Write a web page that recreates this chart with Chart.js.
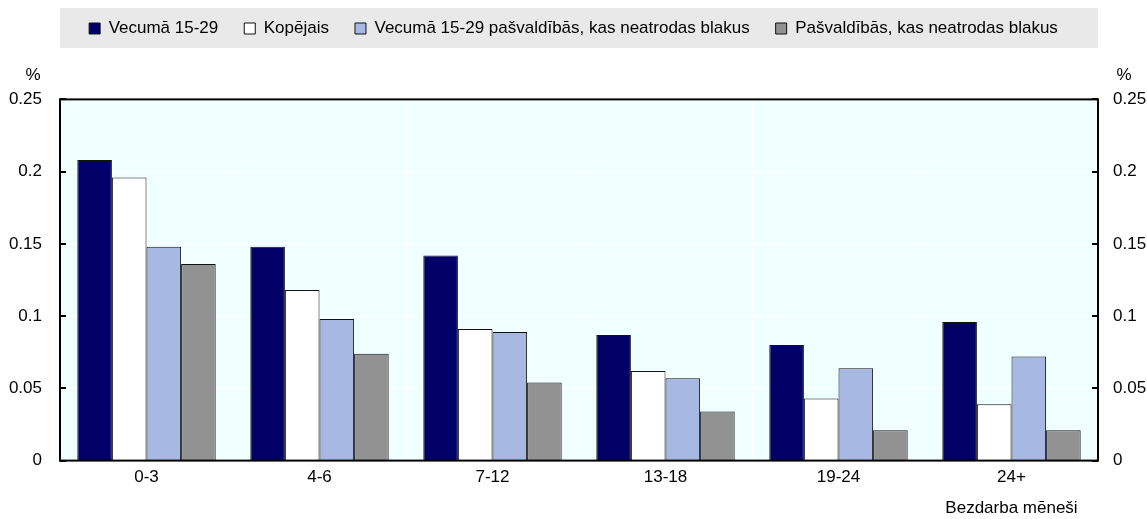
<!DOCTYPE html>
<html>
<head>
<meta charset="utf-8">
<script src="https://cdn.jsdelivr.net/npm/chart.js@4.4.1/dist/chart.umd.min.js"></script>
<style>
  html, body { margin: 0; padding: 0; background: #fff; }
</style>
</head>
<body>
<canvas id="myChart" width="1147" height="519"></canvas>
<script>
const categories = ['0-3', '4-6', '7-12', '13-18', '19-24', '24+'];
const seriesNames = [
  'Vecumā 15-29',
  'Kopējais',
  'Vecumā 15-29 pašvaldībās, kas neatrodas blakus',
  'Pašvaldībās, kas neatrodas blakus'
];
const youth = [0.208, 0.148, 0.142, 0.087, 0.080, 0.096];
const total = [0.196, 0.118, 0.091, 0.062, 0.043, 0.039];
const youthNonAdjacent = [0.148, 0.098, 0.089, 0.057, 0.064, 0.072];
const nonAdjacent = [0.136, 0.074, 0.054, 0.034, 0.021, 0.021];
const yMin = 0;
const yMax = 0.25;
const yStep = 0.05;
const unitLabel = '%';
const xTitle = 'Bezdarba mēneši';

const colors = ['#000066', '#ffffff', '#a7b9e3', '#929292'];
const font = { family: "'Liberation Sans', Arial, sans-serif", size: 17 };

// 0.2 rather than 0.20
const fmtTick = v => parseFloat(Number(v).toFixed(2)).toString();

// plot background, grey legend strip, frame + inward ticks, captions
const decor = {
  id: 'decor',
  beforeDraw(chart) {
    const { ctx, chartArea, legend } = chart;
    ctx.save();
    ctx.fillStyle = '#f0ffff';
    ctx.fillRect(chartArea.left, chartArea.top, chartArea.right - chartArea.left, chartArea.bottom - chartArea.top);
    if (legend && legend.legendHitBoxes.length) {
      const hb = legend.legendHitBoxes[0];
      ctx.fillStyle = '#e9e9e9';
      ctx.fillRect(chartArea.left, hb.top - 12, chartArea.right - chartArea.left, hb.height + 23);
    }
    ctx.restore();
  },
  afterDatasetsDraw(chart) {
    const { ctx, chartArea, scales } = chart;
    const y = scales.y;
    ctx.save();
    ctx.strokeStyle = '#000';
    ctx.lineWidth = 2;
    ctx.strokeRect(chartArea.left, chartArea.top, chartArea.right - chartArea.left, chartArea.bottom - chartArea.top);
    y.ticks.forEach(t => {
      const py = Math.round(y.getPixelForValue(t.value));
      ctx.beginPath();
      ctx.moveTo(chartArea.left, py);
      ctx.lineTo(chartArea.left + 6, py);
      ctx.moveTo(chartArea.right, py);
      ctx.lineTo(chartArea.right - 6, py);
      ctx.stroke();
    });
    ctx.fillStyle = '#000';
    ctx.font = `${font.size}px ${font.family}`;
    ctx.textAlign = 'center';
    ctx.textBaseline = 'middle';
    ctx.fillText(unitLabel, 33, chartArea.top - 24);
    ctx.fillText(unitLabel, chartArea.right + 26, chartArea.top - 24);
    const x = scales.x;
    ctx.fillText(xTitle, x.getPixelForValue(categories.length - 1), x.bottom + 13);
    ctx.restore();
  }
};

const makeSet = (label, data, i) => ({
  label,
  data,
  backgroundColor: colors[i],
  borderColor: '#111',
  borderWidth: 1,
  borderSkipped: 'bottom',
  categoryPercentage: 0.8,
  barPercentage: 1.0
});

const ctx = document.getElementById('myChart').getContext('2d');
const myChart = new Chart(ctx, {
  type: 'bar',
  data: {
    labels: categories,
    datasets: [
      makeSet(seriesNames[0], youth, 0),
      makeSet(seriesNames[1], total, 1),
      makeSet(seriesNames[2], youthNonAdjacent, 2),
      makeSet(seriesNames[3], nonAdjacent, 3)
    ]
  },
  options: {
    responsive: false,
    animation: false,
    devicePixelRatio: 1,
    layout: { padding: { top: -6, bottom: 24, left: 0, right: 0 } },
    plugins: {
      legend: {
        display: true,
        position: 'top',
        labels: {
          font,
          color: '#000',
          boxWidth: 11,
          boxHeight: 11,
          padding: 26
        }
      },
      title: {
        // empty spacer between legend and plot, leaves room for the % captions
        display: true,
        text: ' ',
        weight: 500,
        padding: { top: 16, bottom: 16 },
        font
      },
      tooltip: { enabled: false }
    },
    scales: {
      x: {
        grid: { color: '#ffffff', lineWidth: 1, offset: true, drawTicks: false },
        border: { display: false },
        ticks: { font, color: '#000', padding: 7 }
      },
      y: {
        position: 'left',
        min: yMin,
        max: yMax,
        grid: { color: '#ffffff', lineWidth: 1, drawTicks: false },
        border: { display: false },
        ticks: { stepSize: yStep, font, color: '#000', padding: 18, callback: fmtTick },
        afterFit(scale) { scale.width = 60; }
      },
      y2: {
        position: 'right',
        min: yMin,
        max: yMax,
        grid: { display: false, drawTicks: false },
        border: { display: false },
        ticks: { stepSize: yStep, font, color: '#000', padding: 15, callback: fmtTick },
        afterFit(scale) { scale.width = 49; }
      }
    }
  },
  plugins: [decor]
});
</script>
</body>
</html>
